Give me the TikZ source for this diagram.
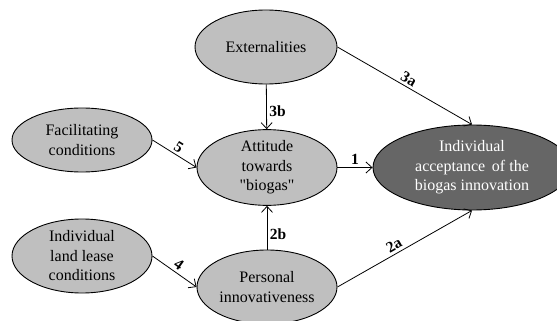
\documentclass[tikz,border=0pt]{standalone}
\usepackage{fontspec}
\setmainfont{Liberation Serif}
\usetikzlibrary{shapes.geometric,arrows.meta}

\begin{document}
\begin{tikzpicture}[x=1pt,y=-1pt,
		node_style/.style={ellipse,draw=black,line width=0.9pt,fill=gray!50,inner sep=0pt,align=center,font=\fontsize{16}{19.5}\selectfont},
		node_style1/.style={node_style,fill=black!60,text=white},
		edge_style/.style={draw=black,line width=0.8pt,-{Straight Barb[length=6pt,width=11pt]}},
		label_style/.style={font=\fontsize{15.5}{15.5}\selectfont\bfseries,inner sep=2.5pt}]

		\useasboundingbox (0,0) rectangle (557,321);

		\node[node_style,minimum width=142pt,minimum height=74pt] (n0) at (266,47)  {Externalities};
		\node[node_style,minimum width=140pt,minimum height=64pt] (n1) at (82,140)  {Facilitating\\conditions};
		\node[node_style,minimum width=140pt,minimum height=75pt] (n2) at (267,167.5)  {Attitude\\towards\\\textquotedbl biogas\textquotedbl};
		\node[node_style1,minimum width=198pt,minimum height=85pt] (n3) at (472,167.5)  {Individual\\acceptance\, of the\\biogas innovation};
		\node[node_style,minimum width=140pt,minimum height=74pt] (n4) at (82,256)  {Individual\\land lease\\conditions};
		\node[node_style,minimum width=140pt,minimum height=74pt] (n5) at (267,287)  {Personal\\innovativeness};

		\draw[edge_style]  (n0.east) -- node[label_style,sloped,above]{3a} (n3.north);
		\draw[edge_style]  (n0) -- node[label_style,right,pos=0.6]{3b} (n2);
		\draw[edge_style]  (n1.east) -- node[label_style,sloped,above]{5} (n2.west);
		\draw[edge_style]  (n2) -- node[label_style,above]{1} (n3);
		\draw[edge_style]  (n4.east) -- node[label_style,sloped,above]{4} (n5.west);
		\draw[edge_style]  (n5) -- node[label_style,right,pos=0.35]{2b} (n2);
		\draw[edge_style]  (n5.east) -- node[label_style,sloped,above,pos=0.45]{2a} (n3.south);

\end{tikzpicture}
\end{document}
